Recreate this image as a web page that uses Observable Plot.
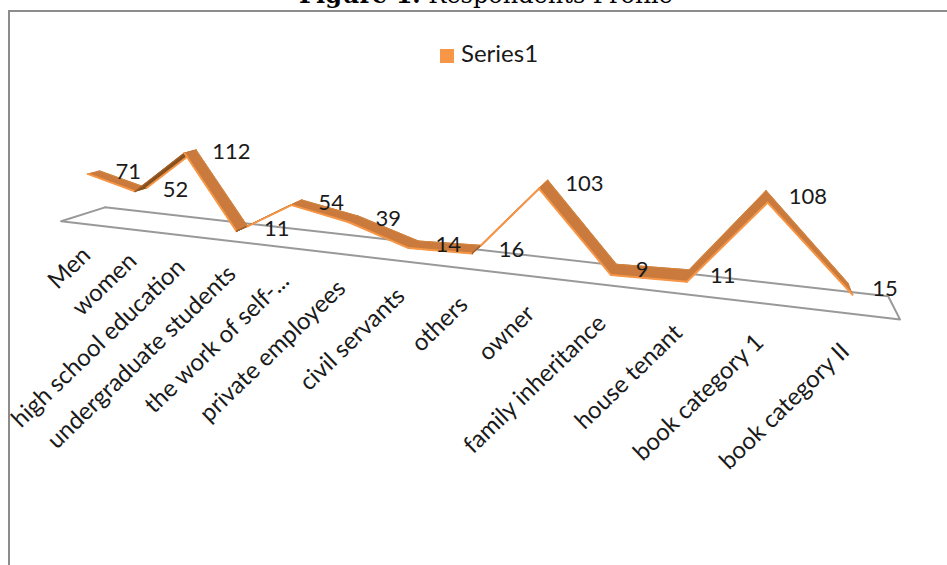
<!DOCTYPE html>
<html><head><meta charset="utf-8">
<script src="https://cdn.jsdelivr.net/npm/d3@7"></script>
<script src="https://cdn.jsdelivr.net/npm/@observablehq/plot@0.6"></script>
<style>
html,body{margin:0;padding:0;background:#fff;overflow:hidden;width:947px;height:565px}
#wrap{position:relative;width:947px;height:565px;overflow:hidden}
#title{position:absolute;left:299px;top:-17px;font-family:"DejaVu Serif",serif;font-size:24px;line-height:24px;white-space:nowrap;color:#000}
#frame{position:absolute;left:8px;top:10px;width:1200px;height:1200px;border:2px solid #8c8c8c;box-sizing:border-box}
#legend{position:absolute;left:440px;top:40px;font-family:Lato,sans-serif;font-size:24px;line-height:26px;color:#1a1a1a;white-space:nowrap}
#legend span.sw{display:inline-block;width:14px;height:14px;background:#F79646;margin-right:7px;vertical-align:-1px}
#chart{position:absolute;left:0;top:0}
</style></head>
<body><div id="wrap">
<div id="frame"></div>
<div id="title"><b>Figure 1.</b> Respondents Profile</div>
<div id="legend"></div>
<div id="chart"></div>
</div>
<script>
const categories = ["Men","women","high school education","undergraduate students","the work of self-...","private employees","civil servants","others","owner","family inheritance","house tenant","book category 1","book category II"];
const values = [71,52,112,11,54,39,14,16,103,9,11,108,15];
const seriesName = "Series1";

// perspective camera (screen-space homography + depth toward a vanishing point)
const cam = {c:-0.0223, ax:44.12, bx:93, ay:0.117, by:220.2, k:0.68, vp:[740,6]};
function project(u, v, z) {
  const D = 1 + cam.c*u;
  const px = (cam.ax*u + cam.bx)/D, py = (cam.ay*u + cam.by - cam.k*v)/D;
  const dx = cam.vp[0]-px, dy = cam.vp[1]-py, len = Math.hypot(dx,dy);
  return [px + z*dx/len, py + z*dy/len];
}
const n = categories.length;
const uMin = -0.5, uMax = n - 0.5;
const lerp = (a,b,t)=>a+(b-a)*t;
const zBack = u => lerp(36,13,(u-uMin)/(uMax-uMin));
const zFront = u => lerp(-10,-13,(u-uMin)/(uMax-uMin));

const floor = [[uMin,zBack(uMin)],[uMax,zBack(uMax)],[uMax,zFront(uMax)],[uMin,zFront(uMin)],[uMin,zBack(uMin)]]
  .map(([u,z])=>{const [x,y]=project(u,0,z);return {x,y};});

const L = 12;
const pts = values.map((v,i)=>({i, v, F: project(i,v,-L/2), B: project(i,v,L/2), C: project(i,v,0)}));
const segs = d3.range(n-1).map(i=>{
  const a = pts[i], b = pts[i+1];
  const sx = b.F[0]-a.F[0], sy = b.F[1]-a.F[1];
  const dx = a.B[0]-a.F[0], dy = a.B[1]-a.F[1];
  const top = (sx*dy - sy*dx) < 0;
  return {i, top,
    poly: [a.F,b.F,b.B,a.B,a.F].map(([x,y])=>({x,y})),
    light: (top ? [a.F,b.F] : [a.B,b.B]).map(([x,y])=>({x,y})),
    other: (top ? [a.B,b.B] : [a.F,b.F]).map(([x,y])=>({x,y}))};
});
const TOP = "#C97A3C", UNDER = "#86501F", LIGHT = "#F79646";

const catLabels = categories.map((c,i)=>{
  const [x,y] = project(i,0,zFront(i));
  return {c, x: x + 8 - 1.0*i, y: y + 33 + 0.4*i};
});

const marks = [Plot.line(floor,{x:"x",y:"y",stroke:"#999",strokeWidth:2})];
for (const s of segs) {
  marks.push(Plot.line(s.poly,{x:"x",y:"y",fill:s.top?TOP:UNDER,stroke:s.top?TOP:UNDER,strokeWidth:1}));
  marks.push(Plot.line(s.other,{x:"x",y:"y",stroke:s.top?"#D0843F":"#A0612A",strokeWidth:1.2}));
  marks.push(Plot.line(s.light,{x:"x",y:"y",stroke:LIGHT,strokeWidth:2}));
}
marks.push(Plot.text(pts,{x:d=>d.C[0],y:d=>d.C[1],text:d=>String(d.v),dx:22,textAnchor:"start",fontSize:22,fill:"#1a1a1a"}));
marks.push(Plot.text(catLabels,{x:"x",y:"y",text:"c",rotate:-44,textAnchor:"end",lineAnchor:"bottom",fontSize:24,fill:"#1a1a1a"}));

const chart = Plot.plot({
  width: 947, height: 565, margin: 0,
  x: {domain:[0,947], range:[0,947], axis:null},
  y: {domain:[0,565], range:[0,565], axis:null},
  style: {fontFamily:"Lato, sans-serif", background:"transparent", overflow:"visible"},
  marks
});
document.getElementById("chart").appendChild(chart);
document.getElementById("legend").innerHTML = `<span class="sw"></span>${seriesName}`;
</script>
</body></html>
